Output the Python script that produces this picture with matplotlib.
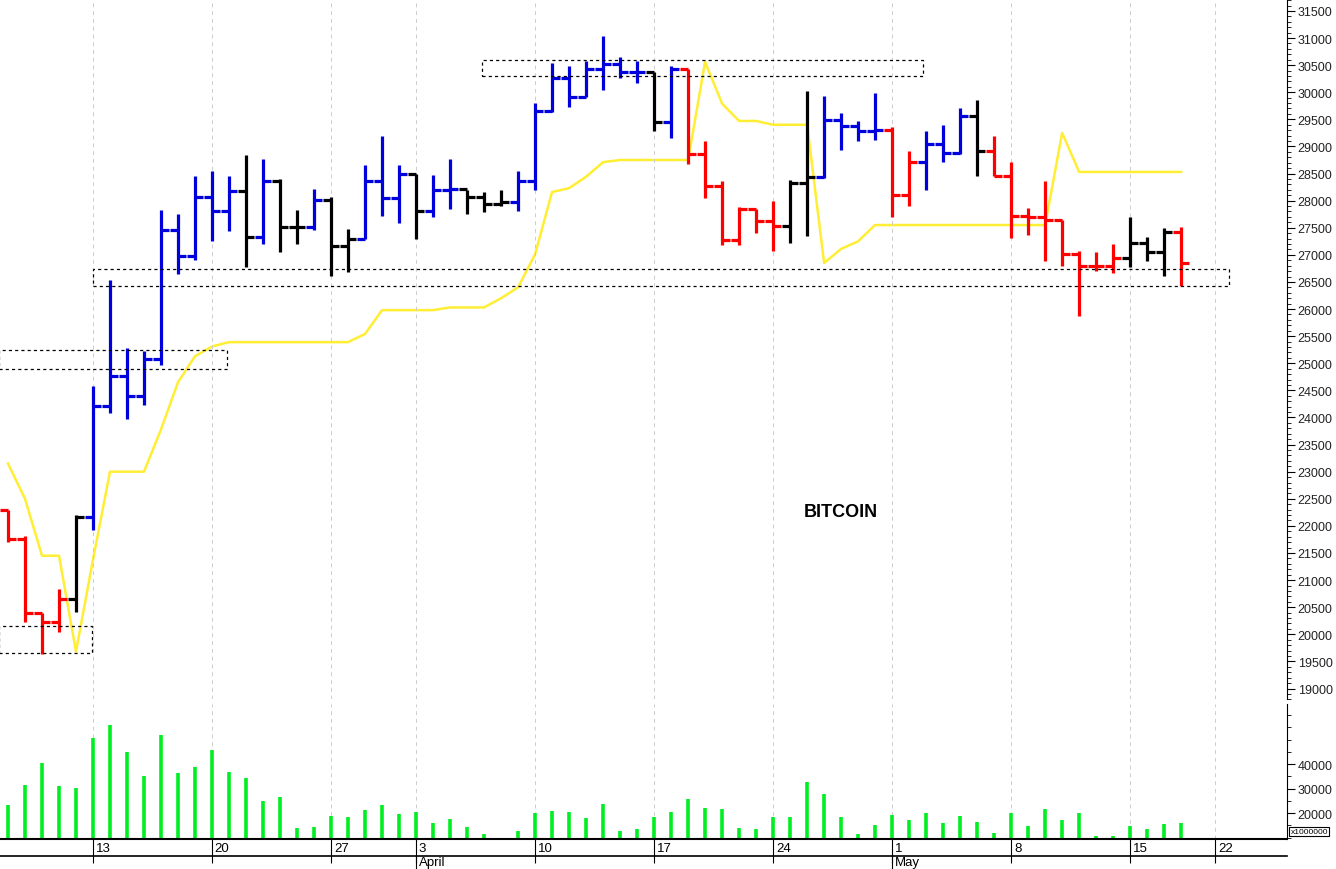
import matplotlib
matplotlib.use('Agg')
import matplotlib.pyplot as plt
from matplotlib.patches import Rectangle
from matplotlib.ticker import MultipleLocator
import numpy as np

plt.rcParams['font.family'] = ['Liberation Sans', 'DejaVu Sans']

# daily bars, 70 days (idx 5 = Mar 13)
highs = [22300, 21810, 20400, 20830, 22200, 24580, 26530, 25280, 25230, 27830,
         27750, 28450, 28550, 28450, 28840, 28770, 28400, 27830, 28210, 28070,
         27480, 28660, 29190, 28660, 28490, 28470, 28770, 28200, 28160, 28200,
         28550, 29800, 30540, 30490, 30580, 31040, 30650, 30580, 30370, 30490,
         30430, 29100, 28360, 27880, 27840, 27990, 28380, 30020, 29930, 29620,
         29470, 29990, 29360, 28920, 29280, 29390, 29710, 29860, 29190, 28710,
         27860, 28360, 27640, 27070, 27050, 27200, 27700, 27330, 27490, 27510]
lows = [21700, 20220, 19630, 20050, 20420, 21930, 24080, 23970, 24230, 24960,
        26640, 26900, 27250, 27440, 26770, 27200, 27050, 27200, 27460, 26610,
        26680, 27290, 27720, 27590, 27290, 27700, 27840, 27750, 27790, 27900,
        27810, 28200, 29640, 29720, 29910, 30040, 30260, 30170, 29280, 29160,
        28680, 28050, 27180, 27180, 27400, 27070, 27210, 27340, 28420, 28940,
        29100, 29120, 27700, 27900, 28200, 28710, 28860, 28450, 28450, 27310,
        27360, 26880, 26790, 25870, 26700, 26660, 26770, 26880, 26610, 26420]
closes = [21750, 20400, 20230, 20650, 22160, 24210, 24760, 24390, 25080, 27460,
          26980, 28070, 27810, 28180, 27330, 28360, 27510, 27510, 28010, 27160,
          27290, 28360, 28050, 28490, 27810, 28200, 28210, 28070, 27940, 27970,
          28360, 29650, 30260, 29910, 30430, 30520, 30370, 30370, 29450, 30430,
          28860, 28270, 27270, 27840, 27620, 27530, 28320, 28430, 29490, 29380,
          29280, 29300, 28100, 28710, 29040, 28880, 29560, 28920, 28450, 27720,
          27700, 27640, 27010, 26800, 26800, 26940, 27210, 27050, 27420, 26850]
first_open = 22300
# r = red, k = black, b = blue
bar_colors = "rrrrk" + "bbbbbbbbb" + "kbkkbkk" + "bbbkbb" + "kkk" + "bbbbbbbb" + "kb" + \
             "rrrrrr" + "kk" + "bbbb" + "rr" + "bbb" + "k" + "rrrrrrrr" + "kkk" + "r"
stop_line = [23150, 22500, 21450, 21450, 19680, 21380, 23000, 23000, 23000, 23780,
             24650, 25130, 25310, 25390, 25390, 25390, 25390, 25390, 25390, 25390,
             25390, 25540, 25980, 25980, 25980, 25980, 26030, 26030, 26030, 26200,
             26400, 27010, 28160, 28230, 28440, 28710, 28750, 28750, 28750, 28750,
             28750, 30560, 29790, 29470, 29470, 29400, 29400, 29400, 26850, 27110,
             27250, 27550, 27550, 27550, 27550, 27550, 27550, 27550, 27550, 27550,
             27550, 27550, 29250, 28530, 28530, 28530, 28530, 28530, 28530, 28530]
volume = [23300, 31400, 40300, 31000, 30200, 50600, 55900, 44800, 35100, 51800,
          36500, 38800, 45800, 36900, 34300, 25000, 26500, 14000, 14400, 18800,
          18200, 21400, 23300, 19600, 20400, 15900, 17600, 14400, 11400, 9800,
          12800, 20000, 20700, 20300, 18000, 23700, 12800, 13500, 18500, 20400,
          25600, 22000, 21600, 13700, 13300, 18200, 18400, 32500, 27800, 18400,
          11400, 15100, 19200, 17000, 20000, 15900, 18800, 16300, 11700, 19900,
          14700, 21500, 17100, 19900, 10600, 10600, 14700, 13300, 15600, 16000]
tick_idx = [5, 12, 19, 24, 31, 38, 45, 52, 59, 66, 71]
tick_labels = ['13', '20', '27', '3', '10', '17', '24', '1', '8', '15', '22']
months = [(24, 'April'), (52, 'May')]
# support / resistance boxes: x0, x1, low, high
boxes = [(27.9, 53.8, 30300, 30595), (5.0, 71.8, 26420, 26740),
         (-0.5, 12.9, 24890, 25240), (-0.5, 4.95, 19650, 20150)]

cmap = {'r': '#ff0000', 'k': '#000000', 'b': '#0000dd'}
opens = [first_open] + closes[:-1]
n = len(closes)
x = np.arange(n)
XMIN, XMAX = -0.47, 75.2
RIGHT = 0.963

fig = plt.figure(figsize=(13.36, 8.7), dpi=100)
ax = fig.add_axes([0, 0.195, RIGHT, 0.805])
axv = fig.add_axes([0, 1 - 840 / 870, RIGHT, 135 / 870])

for i in range(n):
    c = cmap[bar_colors[i]]
    ax.plot([x[i], x[i]], [lows[i], highs[i]], color=c, lw=2.3, solid_capstyle='butt')
    ax.plot([x[i] - 0.47, x[i]], [opens[i], opens[i]], color=c, lw=2.3, solid_capstyle='butt')
    ax.plot([x[i], x[i] + 0.47], [closes[i], closes[i]], color=c, lw=2.3, solid_capstyle='butt')

ax.plot(x, stop_line, color='#ffee33', lw=1.8, zorder=1)

for x0, x1, lo, hi in boxes:
    ax.add_patch(Rectangle((x0, lo), x1 - x0, hi - lo, fill=False, ec='black',
                           lw=0.9, ls=(0, (2.5, 2.5)), zorder=3))

ax.text(49.0, 22270, 'BITCOIN', fontsize=13, fontweight='bold', ha='center', va='center')

ax.set_xlim(XMIN, XMAX)
ax.set_ylim(18800, 31720)
ax.yaxis.tick_right()
ax.set_yticks(list(range(19000, 31501, 500)))
ax.yaxis.set_minor_locator(MultipleLocator(100))
ax.tick_params(axis='y', which='major', length=6, labelsize=9, labelcolor='#222222', pad=2)
ax.tick_params(axis='y', which='minor', length=3)
ax.set_xticks(tick_idx)
ax.tick_params(axis='x', length=0, labelbottom=False)
ax.grid(axis='x', color='#cccccc', ls=(0, (4, 4)), lw=0.7)
for s in ['top', 'left', 'bottom']:
    ax.spines[s].set_visible(False)

axv.vlines(x, 0, volume, color='#00ee22', lw=2.6)
axv.set_xlim(XMIN, XMAX)
axv.set_ylim(9400, 64500)
axv.yaxis.tick_right()
axv.set_yticks([20000, 30000, 40000])
axv.yaxis.set_minor_locator(MultipleLocator(5000))
axv.tick_params(axis='y', which='major', length=6, labelsize=9, labelcolor='#222222', pad=2)
axv.tick_params(axis='y', which='minor', length=3)
axv.set_xticks(tick_idx)
axv.set_xticklabels(tick_labels, fontsize=9.5, ha='left')
axv.tick_params(axis='x', direction='out', length=17, pad=-15, width=0.8)
for lab in axv.get_xticklabels():
    lab.set_x(lab.get_position()[0])
    lab.set_transform(lab.get_transform() + matplotlib.transforms.ScaledTranslation(2 / 72, 0, fig.dpi_scale_trans))
axv.grid(axis='x', color='#cccccc', ls=(0, (4, 4)), lw=0.7)
axv.spines['top'].set_visible(False)
axv.spines['left'].set_visible(False)
axv.spines['bottom'].set_linewidth(1.5)
axv.text(1.003, 0.03, 'x1000000', transform=axv.transAxes, fontsize=6,
         va='bottom', ha='left', bbox=dict(fc='white', ec='black', lw=0.8, pad=1))

# date strip lines
fig.add_artist(plt.Line2D([0, RIGHT], [1 - 857 / 870] * 2, color='black', lw=1.2))
for xi, lab in months:
    fx = RIGHT * (xi - XMIN) / (XMAX - XMIN)
    fig.add_artist(plt.Line2D([fx, fx], [0, 1 - 857 / 870], color='black', lw=0.8))
    fig.text(fx + 0.002, 0.001, lab, fontsize=9.5, va='bottom', ha='left')

fig.savefig('out.png', dpi=100)
